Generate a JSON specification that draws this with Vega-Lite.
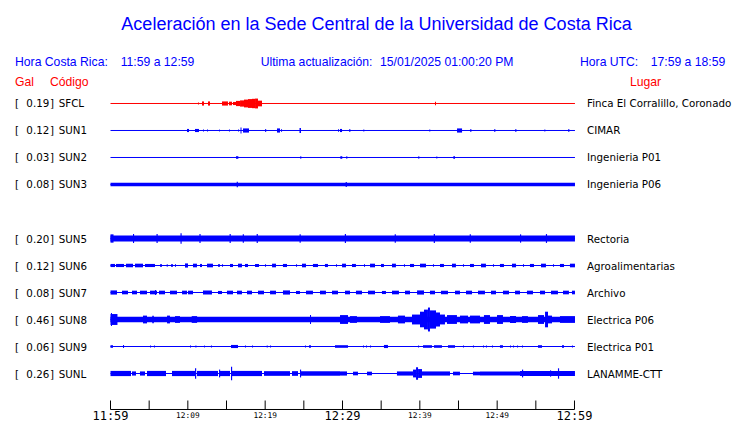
{
"$schema": "https://vega.github.io/schema/vega-lite/v6.json",
"width": 740, "height": 423, "autosize": {"type": "none"}, "padding": 0,
"background": "white",
"config": {"view": {"stroke": null}},
"datasets": {
"stations": [
{"s":"SFCL","row":0,"gal":0.19,"loc":"Finca El Corralillo, Coronado"},
{"s":"SUN1","row":1,"gal":0.12,"loc":"CIMAR"},
{"s":"SUN2","row":2,"gal":0.03,"loc":"Ingenieria P01"},
{"s":"SUN3","row":3,"gal":0.08,"loc":"Ingenieria P06"},
{"s":"SUN5","row":5,"gal":0.20,"loc":"Rectoria"},
{"s":"SUN6","row":6,"gal":0.12,"loc":"Agroalimentarias"},
{"s":"SUN7","row":7,"gal":0.08,"loc":"Archivo"},
{"s":"SUN8","row":8,"gal":0.46,"loc":"Electrica P06"},
{"s":"SUN9","row":9,"gal":0.06,"loc":"Electrica P01"},
{"s":"SUNL","row":10,"gal":0.26,"loc":"LANAMME-CTT"}
],
"bursts": [
{"s":"SFCL","a":11.31,"b":11.44,"g":0.04},
{"s":"SFCL","a":11.83,"b":12.09,"g":0.08},
{"s":"SFCL","a":12.61,"b":12.87,"g":0.08},
{"s":"SFCL","a":14.42,"b":15.19,"g":0.08},
{"s":"SFCL","a":15.32,"b":15.71,"g":0.07},
{"s":"SFCL","a":15.84,"b":16.23,"g":0.06},
{"s":"SFCL","a":16.23,"b":16.75,"g":0.10},
{"s":"SFCL","a":16.75,"b":17.26,"g":0.12},
{"s":"SFCL","a":17.26,"b":17.78,"g":0.15},
{"s":"SFCL","a":17.78,"b":18.30,"g":0.17},
{"s":"SFCL","a":18.30,"b":18.69,"g":0.18},
{"s":"SFCL","a":18.69,"b":19.07,"g":0.19},
{"s":"SFCL","a":19.07,"b":19.59,"g":0.11},
{"s":"SFCL","a":41.96,"b":42.09,"g":0.07},
{"s":"SUN1","a":9.89,"b":10.15,"g":0.06},
{"s":"SUN1","a":10.93,"b":11.44,"g":0.06},
{"s":"SUN1","a":11.96,"b":12.09,"g":0.04},
{"s":"SUN1","a":12.48,"b":12.61,"g":0.04},
{"s":"SUN1","a":14.03,"b":14.16,"g":0.035},
{"s":"SUN1","a":15.32,"b":15.45,"g":0.035},
{"s":"SUN1","a":16.49,"b":16.62,"g":0.035},
{"s":"SUN1","a":16.81,"b":16.94,"g":0.12},
{"s":"SUN1","a":17.13,"b":17.91,"g":0.08},
{"s":"SUN1","a":20.00,"b":20.13,"g":0.06},
{"s":"SUN1","a":21.53,"b":21.92,"g":0.08},
{"s":"SUN1","a":22.05,"b":22.18,"g":0.05},
{"s":"SUN1","a":24.44,"b":24.63,"g":0.10},
{"s":"SUN1","a":29.42,"b":29.55,"g":0.05},
{"s":"SUN1","a":29.68,"b":29.94,"g":0.06},
{"s":"SUN1","a":30.88,"b":31.01,"g":0.06},
{"s":"SUN1","a":32.69,"b":32.82,"g":0.035},
{"s":"SUN1","a":41.22,"b":41.35,"g":0.035},
{"s":"SUN1","a":44.81,"b":45.46,"g":0.08},
{"s":"SUN1","a":46.53,"b":46.66,"g":0.06},
{"s":"SUN1","a":49.63,"b":49.76,"g":0.06},
{"s":"SUN1","a":52.35,"b":52.48,"g":0.06},
{"s":"SUN1","a":56.10,"b":56.23,"g":0.035},
{"s":"SUN1","a":59.20,"b":59.33,"g":0.06},
{"s":"SUN2","a":16.23,"b":16.53,"g":0.05},
{"s":"SUN2","a":24.54,"b":24.67,"g":0.05},
{"s":"SUN2","a":29.72,"b":29.97,"g":0.05},
{"s":"SUN2","a":30.49,"b":30.62,"g":0.05},
{"s":"SUN2","a":39.80,"b":39.93,"g":0.05},
{"s":"SUN2","a":42.13,"b":42.26,"g":0.035},
{"s":"SUN2","a":44.33,"b":44.55,"g":0.05},
{"s":"SUN3","a":0,"b":60.06,"g":0.065},
{"s":"SUN3","a":16.32,"b":16.47,"g":0.11},
{"s":"SUN3","a":30.41,"b":30.56,"g":0.10},
{"s":"SUN5","a":0,"b":60.06,"g":0.12},
{"s":"SUN5","a":0,"b":0.39,"g":0.16},
{"s":"SUN5","a":2.91,"b":3.05,"g":0.17},
{"s":"SUN5","a":5.95,"b":6.10,"g":0.17},
{"s":"SUN5","a":9.05,"b":9.20,"g":0.20},
{"s":"SUN5","a":11.50,"b":11.65,"g":0.17},
{"s":"SUN5","a":15.40,"b":15.55,"g":0.17},
{"s":"SUN5","a":17.10,"b":17.25,"g":0.16},
{"s":"SUN5","a":18.90,"b":19.05,"g":0.17},
{"s":"SUN5","a":24.45,"b":24.60,"g":0.16},
{"s":"SUN5","a":30.30,"b":30.45,"g":0.17},
{"s":"SUN5","a":36.75,"b":36.90,"g":0.16},
{"s":"SUN5","a":41.80,"b":41.95,"g":0.17},
{"s":"SUN5","a":46.45,"b":46.60,"g":0.16},
{"s":"SUN5","a":52.95,"b":53.10,"g":0.16},
{"s":"SUN5","a":56.30,"b":56.45,"g":0.17},
{"s":"SUN6","a":0,"b":0.58,"g":0.06},
{"s":"SUN6","a":0.71,"b":1.75,"g":0.06},
{"s":"SUN6","a":2.00,"b":2.91,"g":0.07},
{"s":"SUN6","a":3.17,"b":4.20,"g":0.07},
{"s":"SUN6","a":4.46,"b":5.75,"g":0.06},
{"s":"SUN6","a":6.40,"b":6.66,"g":0.05},
{"s":"SUN6","a":7.27,"b":7.40,"g":0.05},
{"s":"SUN6","a":7.82,"b":8.08,"g":0.05},
{"s":"SUN6","a":8.34,"b":8.47,"g":0.05},
{"s":"SUN6","a":9.63,"b":10.02,"g":0.08},
{"s":"SUN6","a":10.67,"b":11.18,"g":0.07},
{"s":"SUN6","a":11.57,"b":11.83,"g":0.06},
{"s":"SUN6","a":12.48,"b":13.25,"g":0.07},
{"s":"SUN6","a":13.90,"b":14.16,"g":0.05},
{"s":"SUN6","a":14.42,"b":14.55,"g":0.05},
{"s":"SUN6","a":15.45,"b":15.84,"g":0.06},
{"s":"SUN6","a":16.49,"b":17.00,"g":0.07},
{"s":"SUN6","a":17.39,"b":17.78,"g":0.06},
{"s":"SUN6","a":18.69,"b":19.20,"g":0.06},
{"s":"SUN6","a":19.98,"b":20.11,"g":0.05},
{"s":"SUN6","a":20.89,"b":21.40,"g":0.07},
{"s":"SUN6","a":22.30,"b":22.82,"g":0.06},
{"s":"SUN6","a":23.99,"b":24.12,"g":0.05},
{"s":"SUN6","a":24.76,"b":25.28,"g":0.07},
{"s":"SUN6","a":26.18,"b":26.83,"g":0.06},
{"s":"SUN6","a":27.73,"b":28.12,"g":0.06},
{"s":"SUN6","a":29.16,"b":29.29,"g":0.05},
{"s":"SUN6","a":29.94,"b":30.45,"g":0.07},
{"s":"SUN6","a":31.23,"b":31.74,"g":0.06},
{"s":"SUN6","a":32.78,"b":32.91,"g":0.05},
{"s":"SUN6","a":33.56,"b":34.20,"g":0.07},
{"s":"SUN6","a":34.98,"b":35.36,"g":0.06},
{"s":"SUN6","a":36.40,"b":36.91,"g":0.07},
{"s":"SUN6","a":37.95,"b":38.08,"g":0.05},
{"s":"SUN6","a":38.73,"b":39.25,"g":0.06},
{"s":"SUN6","a":40.02,"b":40.80,"g":0.07},
{"s":"SUN6","a":41.70,"b":41.83,"g":0.05},
{"s":"SUN6","a":42.61,"b":43.12,"g":0.06},
{"s":"SUN6","a":44.16,"b":44.67,"g":0.07},
{"s":"SUN6","a":45.58,"b":45.71,"g":0.05},
{"s":"SUN6","a":46.49,"b":47.00,"g":0.06},
{"s":"SUN6","a":47.91,"b":48.55,"g":0.07},
{"s":"SUN6","a":49.46,"b":49.59,"g":0.05},
{"s":"SUN6","a":50.36,"b":50.88,"g":0.06},
{"s":"SUN6","a":51.92,"b":52.44,"g":0.07},
{"s":"SUN6","a":53.34,"b":53.47,"g":0.05},
{"s":"SUN6","a":54.24,"b":54.76,"g":0.06},
{"s":"SUN6","a":55.67,"b":56.31,"g":0.07},
{"s":"SUN6","a":57.22,"b":57.35,"g":0.05},
{"s":"SUN6","a":58.12,"b":58.64,"g":0.06},
{"s":"SUN6","a":59.41,"b":60.06,"g":0.07},
{"s":"SUN7","a":0,"b":0.84,"g":0.08},
{"s":"SUN7","a":1.49,"b":2.26,"g":0.07},
{"s":"SUN7","a":2.78,"b":3.43,"g":0.07},
{"s":"SUN7","a":3.81,"b":4.72,"g":0.07},
{"s":"SUN7","a":5.11,"b":6.01,"g":0.07},
{"s":"SUN7","a":5.75,"b":5.88,"g":0.10},
{"s":"SUN7","a":6.27,"b":7.05,"g":0.07},
{"s":"SUN7","a":7.69,"b":8.60,"g":0.07},
{"s":"SUN7","a":9.25,"b":9.89,"g":0.07},
{"s":"SUN7","a":10.02,"b":10.67,"g":0.07},
{"s":"SUN7","a":11.96,"b":13.12,"g":0.08},
{"s":"SUN7","a":13.90,"b":14.42,"g":0.06},
{"s":"SUN7","a":15.06,"b":15.84,"g":0.07},
{"s":"SUN7","a":16.36,"b":17.00,"g":0.07},
{"s":"SUN7","a":17.65,"b":18.30,"g":0.07},
{"s":"SUN7","a":19.07,"b":19.85,"g":0.07},
{"s":"SUN7","a":20.63,"b":21.40,"g":0.07},
{"s":"SUN7","a":22.30,"b":23.21,"g":0.08},
{"s":"SUN7","a":23.99,"b":24.50,"g":0.06},
{"s":"SUN7","a":25.28,"b":26.18,"g":0.07},
{"s":"SUN7","a":27.09,"b":27.86,"g":0.07},
{"s":"SUN7","a":28.64,"b":29.42,"g":0.07},
{"s":"SUN7","a":30.32,"b":30.97,"g":0.07},
{"s":"SUN7","a":31.74,"b":32.52,"g":0.07},
{"s":"SUN7","a":33.30,"b":34.20,"g":0.07},
{"s":"SUN7","a":35.10,"b":35.62,"g":0.06},
{"s":"SUN7","a":36.40,"b":37.30,"g":0.07},
{"s":"SUN7","a":38.08,"b":38.73,"g":0.07},
{"s":"SUN7","a":39.64,"b":40.54,"g":0.08},
{"s":"SUN7","a":41.31,"b":41.96,"g":0.07},
{"s":"SUN7","a":42.73,"b":43.64,"g":0.07},
{"s":"SUN7","a":44.55,"b":45.19,"g":0.07},
{"s":"SUN7","a":45.97,"b":46.75,"g":0.07},
{"s":"SUN7","a":47.52,"b":48.42,"g":0.07},
{"s":"SUN7","a":49.20,"b":49.85,"g":0.07},
{"s":"SUN7","a":50.75,"b":51.53,"g":0.07},
{"s":"SUN7","a":52.31,"b":52.95,"g":0.07},
{"s":"SUN7","a":53.85,"b":54.63,"g":0.07},
{"s":"SUN7","a":55.54,"b":56.19,"g":0.07},
{"s":"SUN7","a":56.96,"b":57.86,"g":0.07},
{"s":"SUN7","a":58.51,"b":59.28,"g":0.07},
{"s":"SUN7","a":59.67,"b":60.06,"g":0.07},
{"s":"SUN8","a":0,"b":60.06,"g":0.11},
{"s":"SUN8","a":0,"b":0.90,"g":0.21},
{"s":"SUN8","a":0.06,"b":0.19,"g":0.25},
{"s":"SUN8","a":4.20,"b":4.72,"g":0.15},
{"s":"SUN8","a":5.40,"b":5.60,"g":0.14},
{"s":"SUN8","a":7.31,"b":7.69,"g":0.15},
{"s":"SUN8","a":8.34,"b":8.99,"g":0.13},
{"s":"SUN8","a":10.50,"b":11.20,"g":0.13},
{"s":"SUN8","a":25.80,"b":25.93,"g":0.17},
{"s":"SUN8","a":29.68,"b":30.71,"g":0.17},
{"s":"SUN8","a":30.97,"b":31.87,"g":0.13},
{"s":"SUN8","a":34.85,"b":36.14,"g":0.13},
{"s":"SUN8","a":37.17,"b":38.08,"g":0.15},
{"s":"SUN8","a":38.99,"b":40.02,"g":0.19},
{"s":"SUN8","a":40.02,"b":40.54,"g":0.30},
{"s":"SUN8","a":40.54,"b":41.05,"g":0.38},
{"s":"SUN8","a":41.05,"b":41.31,"g":0.46},
{"s":"SUN8","a":41.31,"b":42.09,"g":0.35},
{"s":"SUN8","a":42.09,"b":42.61,"g":0.27},
{"s":"SUN8","a":42.61,"b":43.25,"g":0.19},
{"s":"SUN8","a":43.51,"b":44.80,"g":0.17},
{"s":"SUN8","a":45.19,"b":46.23,"g":0.15},
{"s":"SUN8","a":46.49,"b":47.78,"g":0.15},
{"s":"SUN8","a":48.29,"b":49.07,"g":0.17},
{"s":"SUN8","a":49.98,"b":50.75,"g":0.17},
{"s":"SUN8","a":51.66,"b":52.44,"g":0.13},
{"s":"SUN8","a":53.21,"b":53.98,"g":0.13},
{"s":"SUN8","a":55.28,"b":56.06,"g":0.17},
{"s":"SUN8","a":56.19,"b":56.57,"g":0.30},
{"s":"SUN8","a":56.57,"b":57.09,"g":0.15},
{"s":"SUN8","a":58.12,"b":60.06,"g":0.13},
{"s":"SUN9","a":0,"b":0.32,"g":0.05},
{"s":"SUN9","a":1.62,"b":1.75,"g":0.06},
{"s":"SUN9","a":5.11,"b":5.24,"g":0.04},
{"s":"SUN9","a":5.62,"b":5.75,"g":0.04},
{"s":"SUN9","a":10.28,"b":10.41,"g":0.04},
{"s":"SUN9","a":10.98,"b":11.11,"g":0.04},
{"s":"SUN9","a":12.09,"b":12.22,"g":0.035},
{"s":"SUN9","a":12.99,"b":13.12,"g":0.035},
{"s":"SUN9","a":15.58,"b":16.49,"g":0.06},
{"s":"SUN9","a":17.39,"b":17.52,"g":0.04},
{"s":"SUN9","a":18.30,"b":18.43,"g":0.04},
{"s":"SUN9","a":20.20,"b":20.33,"g":0.04},
{"s":"SUN9","a":20.63,"b":20.76,"g":0.04},
{"s":"SUN9","a":25.15,"b":25.28,"g":0.04},
{"s":"SUN9","a":25.67,"b":25.92,"g":0.05},
{"s":"SUN9","a":29.03,"b":30.71,"g":0.05},
{"s":"SUN9","a":32.65,"b":32.78,"g":0.04},
{"s":"SUN9","a":33.04,"b":33.17,"g":0.04},
{"s":"SUN9","a":33.56,"b":33.69,"g":0.04},
{"s":"SUN9","a":35.36,"b":35.88,"g":0.06},
{"s":"SUN9","a":39.77,"b":39.90,"g":0.04},
{"s":"SUN9","a":40.41,"b":41.57,"g":0.05},
{"s":"SUN9","a":41.83,"b":42.86,"g":0.05},
{"s":"SUN9","a":43.64,"b":44.55,"g":0.05},
{"s":"SUN9","a":45.58,"b":45.71,"g":0.04},
{"s":"SUN9","a":46.87,"b":47.00,"g":0.04},
{"s":"SUN9","a":48.17,"b":48.30,"g":0.04},
{"s":"SUN9","a":48.55,"b":48.68,"g":0.04},
{"s":"SUN9","a":49.33,"b":49.46,"g":0.04},
{"s":"SUN9","a":50.36,"b":50.75,"g":0.05},
{"s":"SUN9","a":51.66,"b":51.79,"g":0.04},
{"s":"SUN9","a":52.05,"b":52.18,"g":0.04},
{"s":"SUN9","a":52.57,"b":52.70,"g":0.04},
{"s":"SUN9","a":53.21,"b":53.34,"g":0.04},
{"s":"SUN9","a":55.28,"b":55.80,"g":0.05},
{"s":"SUN9","a":58.38,"b":58.64,"g":0.05},
{"s":"SUN9","a":59.67,"b":59.80,"g":0.04},
{"s":"SUNL","a":0,"b":2.65,"g":0.10},
{"s":"SUNL","a":2.78,"b":3.30,"g":0.08},
{"s":"SUNL","a":3.81,"b":4.46,"g":0.08},
{"s":"SUNL","a":4.72,"b":7.18,"g":0.10},
{"s":"SUNL","a":7.95,"b":10.93,"g":0.10},
{"s":"SUNL","a":10.93,"b":11.08,"g":0.20},
{"s":"SUNL","a":11.18,"b":13.90,"g":0.10},
{"s":"SUNL","a":14.03,"b":14.18,"g":0.15},
{"s":"SUNL","a":14.16,"b":15.45,"g":0.10},
{"s":"SUNL","a":15.58,"b":15.73,"g":0.26},
{"s":"SUNL","a":15.71,"b":19.59,"g":0.10},
{"s":"SUNL","a":19.85,"b":23.21,"g":0.09},
{"s":"SUNL","a":23.47,"b":24.25,"g":0.09},
{"s":"SUNL","a":24.50,"b":24.65,"g":0.15},
{"s":"SUNL","a":24.63,"b":29.68,"g":0.09},
{"s":"SUNL","a":29.68,"b":30.58,"g":0.08},
{"s":"SUNL","a":31.36,"b":32.00,"g":0.07},
{"s":"SUNL","a":33.17,"b":33.81,"g":0.07},
{"s":"SUNL","a":37.04,"b":39.12,"g":0.08},
{"s":"SUNL","a":39.12,"b":39.51,"g":0.15},
{"s":"SUNL","a":39.51,"b":39.77,"g":0.24},
{"s":"SUNL","a":39.77,"b":40.28,"g":0.17},
{"s":"SUNL","a":40.28,"b":43.90,"g":0.08},
{"s":"SUNL","a":44.29,"b":45.19,"g":0.07},
{"s":"SUNL","a":46.87,"b":47.78,"g":0.07},
{"s":"SUNL","a":47.78,"b":52.95,"g":0.08},
{"s":"SUNL","a":53.21,"b":53.36,"g":0.15},
{"s":"SUNL","a":52.95,"b":60.06,"g":0.10},
{"s":"SUNL","a":56.83,"b":56.98,"g":0.12},
{"s":"SUNL","a":57.86,"b":58.01,"g":0.20}
],
"ticks": [{"t":0},{"t":5},{"t":10},{"t":15},{"t":20},{"t":25},{"t":30},{"t":35},{"t":40},{"t":45},{"t":50},{"t":55},{"t":60}]
},
"layer": [
{"data": {"name": "stations"}, "mark": {"type": "rule", "strokeWidth": 1},
 "encoding": {
  "x": {"datum": 0, "type": "quantitative", "scale": {"domain": [-14.289, 81.401], "nice": false, "zero": false}, "axis": null},
  "x2": {"datum": 60.06},
  "y": {"field": "row", "type": "quantitative", "scale": {"domain": [-3.8333, 11.8333], "nice": false, "zero": false, "reverse": true}, "axis": null},
  "color": {"condition": {"test": "datum.s === 'SFCL'", "value": "#ff0000"}, "value": "#0000ff"}}},
{"data": {"name": "bursts"},
 "transform": [
  {"lookup": "s", "from": {"data": {"name": "stations"}, "key": "s", "fields": ["row"]}},
  {"calculate": "datum.row - datum.g * 0.963", "as": "lo"},
  {"calculate": "datum.row + datum.g * 0.963", "as": "hi"}],
 "mark": {"type": "rect"},
 "encoding": {
  "x": {"field": "a", "type": "quantitative", "scale": {"domain": [-14.289, 81.401], "nice": false, "zero": false}, "axis": null},
  "x2": {"field": "b"},
  "y": {"field": "lo", "type": "quantitative", "scale": {"domain": [-3.8333, 11.8333], "nice": false, "zero": false, "reverse": true}, "axis": null},
  "y2": {"field": "hi"},
  "color": {"condition": {"test": "datum.s === 'SFCL'", "value": "#ff0000"}, "value": "#0000ff"}}},
{"data": {"name": "stations"}, "mark": {"type": "text", "font": "DejaVu Sans", "fontSize": 10.3, "align": "left", "baseline": "alphabetic", "dy": 4, "color": "#000000"},
 "encoding": {"x": {"datum": -12.349, "type": "quantitative"}, "y": {"field": "row", "type": "quantitative"}, "text": {"value": "["}}},
{"data": {"name": "stations"}, "mark": {"type": "text", "font": "DejaVu Sans", "fontSize": 10.3, "align": "right", "baseline": "alphabetic", "dy": 4, "color": "#000000"},
 "encoding": {"x": {"datum": -7.914, "type": "quantitative"}, "y": {"field": "row", "type": "quantitative"}, "text": {"field": "gal", "type": "quantitative", "format": ".2f"}}},
{"data": {"name": "stations"}, "mark": {"type": "text", "font": "DejaVu Sans", "fontSize": 10.3, "align": "left", "baseline": "alphabetic", "dy": 4, "color": "#000000"},
 "encoding": {"x": {"datum": -7.823, "type": "quantitative"}, "y": {"field": "row", "type": "quantitative"}, "text": {"value": "]"}}},
{"data": {"name": "stations"}, "mark": {"type": "text", "font": "DejaVu Sans", "fontSize": 10.3, "align": "left", "baseline": "alphabetic", "dy": 4, "color": "#000000"},
 "encoding": {"x": {"datum": -6.698, "type": "quantitative"}, "y": {"field": "row", "type": "quantitative"}, "text": {"field": "s"}}},
{"data": {"name": "stations"}, "mark": {"type": "text", "font": "DejaVu Sans", "fontSize": 10.3, "align": "left", "baseline": "alphabetic", "dy": 4, "color": "#000000"},
 "encoding": {"x": {"datum": 61.616, "type": "quantitative"}, "y": {"field": "row", "type": "quantitative"}, "text": {"field": "loc"}}},
{"data": {"values": [{"txt": "Aceleración en la Sede Central de la Universidad de Costa Rica"}]},
 "mark": {"type": "text", "font": "Liberation Sans", "fontSize": 18, "align": "center", "baseline": "alphabetic", "color": "#0000ff"},
 "encoding": {"x": {"datum": 34.397, "type": "quantitative"}, "y": {"datum": -2.74, "type": "quantitative"}, "text": {"field": "txt"}}},
{"data": {"values": [{"txt": "Hora Costa Rica:"}]},
 "mark": {"type": "text", "font": "Liberation Sans", "fontSize": 12.2, "align": "left", "baseline": "alphabetic", "color": "#0000ff"},
 "encoding": {"x": {"datum": -12.349, "type": "quantitative"}, "y": {"datum": -1.389, "type": "quantitative"}, "text": {"field": "txt"}}},
{"data": {"values": [{"txt": "11:59 a 12:59"}]},
 "mark": {"type": "text", "font": "Liberation Sans", "fontSize": 12.2, "align": "left", "baseline": "alphabetic", "color": "#0000ff"},
 "encoding": {"x": {"datum": 1.319, "type": "quantitative"}, "y": {"datum": -1.389, "type": "quantitative"}, "text": {"field": "txt"}}},
{"data": {"values": [{"txt": "Ultima actualización:"}]},
 "mark": {"type": "text", "font": "Liberation Sans", "fontSize": 12.2, "align": "left", "baseline": "alphabetic", "color": "#0000ff"},
 "encoding": {"x": {"datum": 19.422, "type": "quantitative"}, "y": {"datum": -1.389, "type": "quantitative"}, "text": {"field": "txt"}}},
{"data": {"values": [{"txt": "15/01/2025 01:00:20 PM"}]},
 "mark": {"type": "text", "font": "Liberation Sans", "fontSize": 12.2, "align": "left", "baseline": "alphabetic", "color": "#0000ff"},
 "encoding": {"x": {"datum": 34.849, "type": "quantitative"}, "y": {"datum": -1.389, "type": "quantitative"}, "text": {"field": "txt"}}},
{"data": {"values": [{"txt": "Hora UTC:"}]},
 "mark": {"type": "text", "font": "Liberation Sans", "fontSize": 12.2, "align": "left", "baseline": "alphabetic", "color": "#0000ff"},
 "encoding": {"x": {"datum": 60.711, "type": "quantitative"}, "y": {"datum": -1.389, "type": "quantitative"}, "text": {"field": "txt"}}},
{"data": {"values": [{"txt": "17:59 a 18:59"}]},
 "mark": {"type": "text", "font": "Liberation Sans", "fontSize": 12.2, "align": "left", "baseline": "alphabetic", "color": "#0000ff"},
 "encoding": {"x": {"datum": 69.853, "type": "quantitative"}, "y": {"datum": -1.389, "type": "quantitative"}, "text": {"field": "txt"}}},
{"data": {"values": [{"txt": "Gal"}]},
 "mark": {"type": "text", "font": "Liberation Sans", "fontSize": 12.2, "align": "left", "baseline": "alphabetic", "color": "#ff0000"},
 "encoding": {"x": {"datum": -12.349, "type": "quantitative"}, "y": {"datum": -0.63, "type": "quantitative"}, "text": {"field": "txt"}}},
{"data": {"values": [{"txt": "Código"}]},
 "mark": {"type": "text", "font": "Liberation Sans", "fontSize": 12.2, "align": "left", "baseline": "alphabetic", "color": "#ff0000"},
 "encoding": {"x": {"datum": -7.823, "type": "quantitative"}, "y": {"datum": -0.63, "type": "quantitative"}, "text": {"field": "txt"}}},
{"data": {"values": [{"txt": "Lugar"}]},
 "mark": {"type": "text", "font": "Liberation Sans", "fontSize": 12.2, "align": "left", "baseline": "alphabetic", "color": "#ff0000"},
 "encoding": {"x": {"datum": 67.177, "type": "quantitative"}, "y": {"datum": -0.63, "type": "quantitative"}, "text": {"field": "txt"}}},
{"data": {"values": [{"from": "11:59", "to": "12:59"}]},
 "mark": {"type": "rule", "strokeWidth": 1, "color": "#000000"},
 "encoding": {"x": {"datum": 0, "type": "quantitative"}, "x2": {"datum": 60}, "y": {"datum": 11.3333, "type": "quantitative"}}},
{"data": {"name": "ticks"},
 "mark": {"type": "rule", "strokeWidth": 1, "color": "#000000"},
 "encoding": {"x": {"field": "t", "type": "quantitative"}, "y": {"datum": 11.0, "type": "quantitative"}, "y2": {"datum": 11.3333}}},
{"data": {"values": [{"t": 0, "l": "11:59"}, {"t": 30, "l": "12:29"}, {"t": 60, "l": "12:59"}]},
 "mark": {"type": "text", "font": "DejaVu Sans Mono", "fontSize": 12, "align": "center", "baseline": "alphabetic", "color": "#000000"},
 "encoding": {"x": {"field": "t", "type": "quantitative"}, "y": {"datum": 11.71, "type": "quantitative"}, "text": {"field": "l"}}},
{"data": {"values": [{"t": 10, "l": "12:09"}, {"t": 20, "l": "12:19"}, {"t": 40, "l": "12:39"}, {"t": 50, "l": "12:49"}]},
 "mark": {"type": "text", "font": "DejaVu Sans Mono", "fontSize": 7.8, "align": "center", "baseline": "alphabetic", "color": "#000000"},
 "encoding": {"x": {"field": "t", "type": "quantitative"}, "y": {"datum": 11.637, "type": "quantitative"}, "text": {"field": "l"}}}
]
}
